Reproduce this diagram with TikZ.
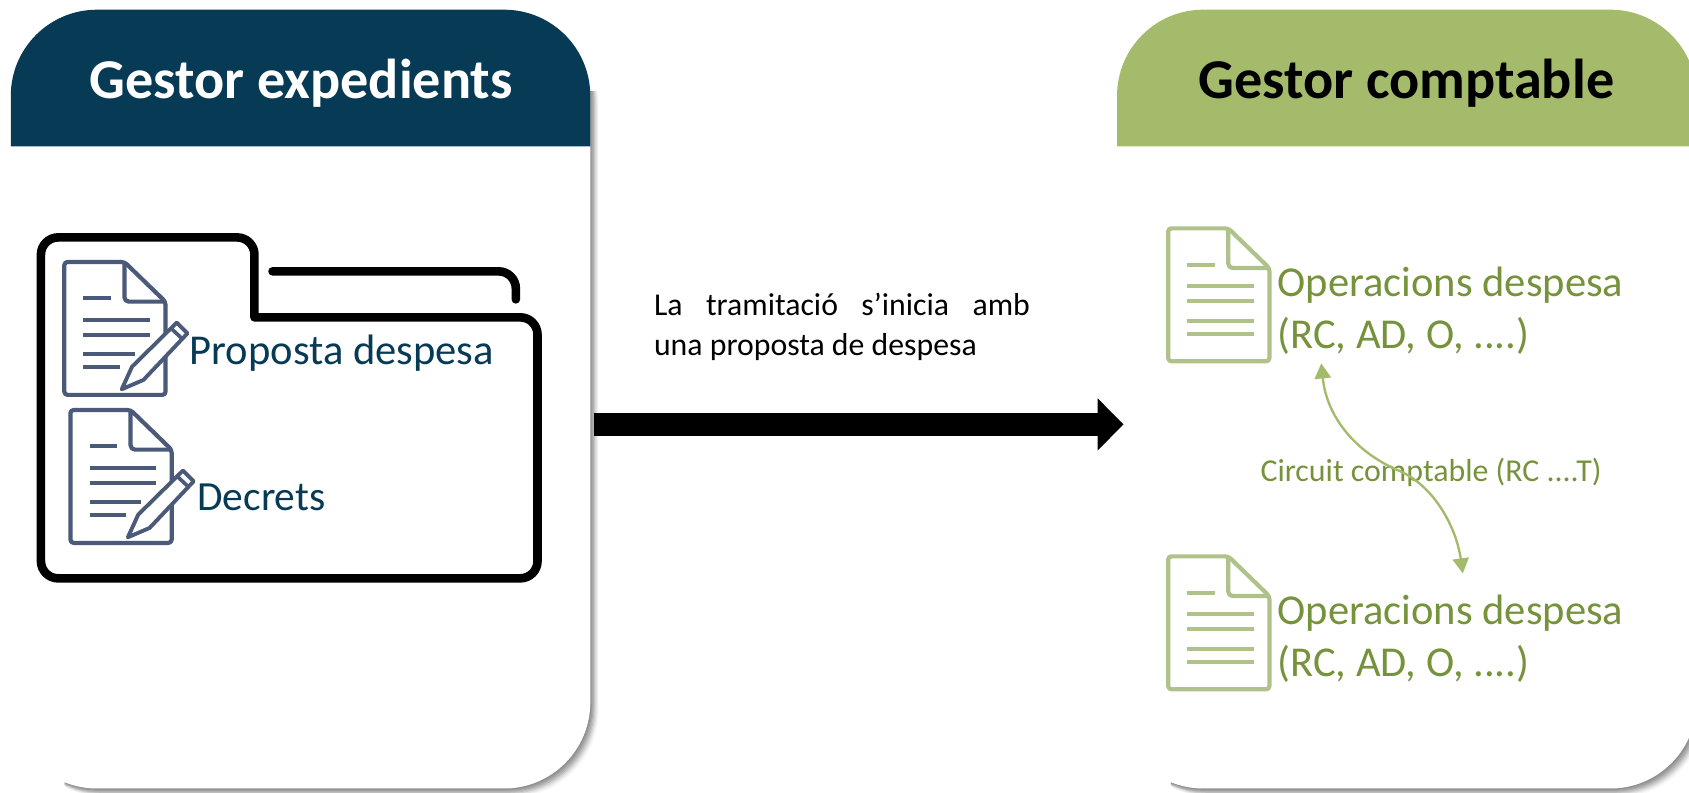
\documentclass[tikz,border=0pt]{standalone}
\usepackage{fontspec}
\setmainfont{Carlito}
\usetikzlibrary{arrows.meta}
\definecolor{navy}{HTML}{073A54}
\definecolor{hgreen}{HTML}{A5BB6C}
\definecolor{tgreen}{HTML}{76933C}
\definecolor{igreen}{HTML}{AFC28A}
\definecolor{islate}{HTML}{4A5A78}
\tikzset{
  cardbody/.style={fill=white,draw=none,rounded corners=80pt},
  hdrtext/.style={inner sep=0pt,font=\fontsize{52.2}{60}\selectfont\bfseries},
  folderline/.style={line width=8pt,line cap=round,line join=round,draw=black},
  doclabel/.style={inner sep=0pt,anchor=base west,font=\fontsize{39.5}{52}\selectfont},
  oplabel/.style={inner sep=0pt,text=tgreen,align=left,anchor=north west,font=\fontsize{39.5}{48.5}\selectfont},
  docicon/.pic={
    \draw[line width=3.9pt,line join=round,draw=#1,rounded corners=3pt]
      (0,0) -- (55.8,0) -- (94,37) -- (94,123.4) -- (0,123.4) -- cycle;
    \draw[line width=3.9pt,line join=round,draw=#1,rounded corners=4pt]
      (55.8,0) -- (55.8,36.8) -- (94,36.8);
    \draw[line width=3.6pt,draw=#1]
      (17.8,33.7) -- (43.3,33.7) (17.8,53.8) -- (79.6,53.8)
      (17.8,67.8) -- (79.6,67.8);
  },
  doclinesgreen/.pic={
    \draw[line width=3.6pt,draw=igreen]
      (17.8,86.3) -- (79.6,86.3) (17.8,97.8) -- (79.6,97.8);
  },
  doclinesslate/.pic={
    \draw[line width=3.6pt,draw=islate]
      (17.8,85.7) -- (65.4,85.7) (17.8,97.2) -- (51.9,97.2);
    \draw[line width=3.6pt,draw=islate,fill=white,line join=round]
      (53.3,118.2) -- (62.9,97.2) -- (104.4,56.3) -- (114.4,66.2) -- (73.5,109.5) -- cycle;
    \draw[line width=3.4pt,draw=islate] (99.1,61.6) -- (109,70.9);
  }
}
\begin{document}
\begin{tikzpicture}[x=1pt,y=-1pt]
\useasboundingbox (0,0) rectangle (1568,736);
% shadows, only along the right and lower edges
\begin{scope}
\clip (60,85) rectangle (600,745);
\foreach \o/\a in {1/.09,2/.09,3/.09,4/.09,5/.08,6/.06,7/.04,8/.02}{
  \fill[black,opacity=\a,rounded corners=80pt] (10+\o,9+\o) rectangle (548+\o,732+\o);
}
\end{scope}
\begin{scope}
\clip (1087,85) rectangle (1600,745);
\foreach \o/\a in {1/.09,2/.09,3/.09,4/.09,5/.08,6/.06,7/.04,8/.02}{
  \fill[black,opacity=\a,rounded corners=80pt] (1037+\o,9+\o) rectangle (1575+\o,732+\o);
}
\end{scope}
% cards
\node[cardbody,minimum width=538pt,minimum height=723pt,inner sep=0pt] (leftcard) at (279,370.5) {};
\node[cardbody,minimum width=538pt,minimum height=723pt,inner sep=0pt] (rightcard) at (1306,370.5) {};
\fill[navy] (10,136) [rounded corners=80pt] -- (10,9) -- (548,9) [sharp corners] -- (548,136) -- cycle;
\fill[hgreen] (1037,136) [rounded corners=80pt] -- (1037,9) -- (1575,9) [sharp corners] -- (1575,136) -- cycle;
\node[hdrtext,text=white] (lefthdr) at (279.5,77) {Gestor expedients};
\node[hdrtext,text=black] (righthdr) at (1305.5,77) {Gestor comptable};
% folder
\draw[folderline,rounded corners=16pt] (236.2,294.6) -- (236.2,220.4) -- (38,220.4) -- (38,536.9) -- (499,536.9) -- (499,294.6) -- (236.2,294.6);
\draw[folderline,rounded corners=16pt] (253,251.9) -- (478.9,251.9) -- (478.9,277.9);
% blue documents
\pic at (59.7,243.2) {docicon=islate};
\pic at (59.7,243.2) {doclinesslate};
\pic at (65.4,380.6) {docicon=islate};
\pic at (65.4,380.6) {doclinesslate};
\node[doclabel,text=navy] (prop) at (176,338) {Proposta despesa};
\node[doclabel,text=navy,font=\fontsize{38.5}{52}\selectfont] (decr) at (183,474) {Decrets};
% green documents
\pic at (1084.5,212) {docicon=igreen};
\pic at (1084.5,212) {doclinesgreen};
\pic at (1084.5,516.5) {docicon=igreen};
\pic at (1084.5,516.5) {doclinesgreen};
\node[oplabel] (opa) at (1186,247.5) {Operacions despesa\\(RC, AD, O, ....)};
\node[oplabel] (opb) at (1186,552) {Operacions despesa\\(RC, AD, O, ....)};
\node[inner sep=0pt,anchor=base west,text=tgreen,font=\fontsize{29.6}{35}\selectfont] (circ) at (1170,447) {Circuit comptable (RC ....T)};
% body text
\node[inner sep=0pt,anchor=north west,align=left,font=\fontsize{29.5}{37}\selectfont] (desc) at (607,272)
 {\makebox[349pt][s]{La tramitació s’inicia amb}\\una proposta de despesa};
% connectors
\coordinate (bigs) at (551,394);
\coordinate (bige) at (1043,394);
\draw[line width=22pt,-{Triangle[length=24pt,width=47pt]}] (bigs) -- (bige);
\coordinate (ca) at (1226.6,337.3);
\coordinate (cb) at (1358,532.3);
\coordinate (cm) at (1300,437.5);
\draw[line width=2.2pt,draw=hgreen,{Triangle[length=14pt,width=15pt]}-{Triangle[length=14pt,width=15pt]}]
  (ca) .. controls (1232,390) and (1262,422) .. (cm) .. controls (1332,452) and (1352,490) .. (cb);
\end{tikzpicture}
\end{document}
